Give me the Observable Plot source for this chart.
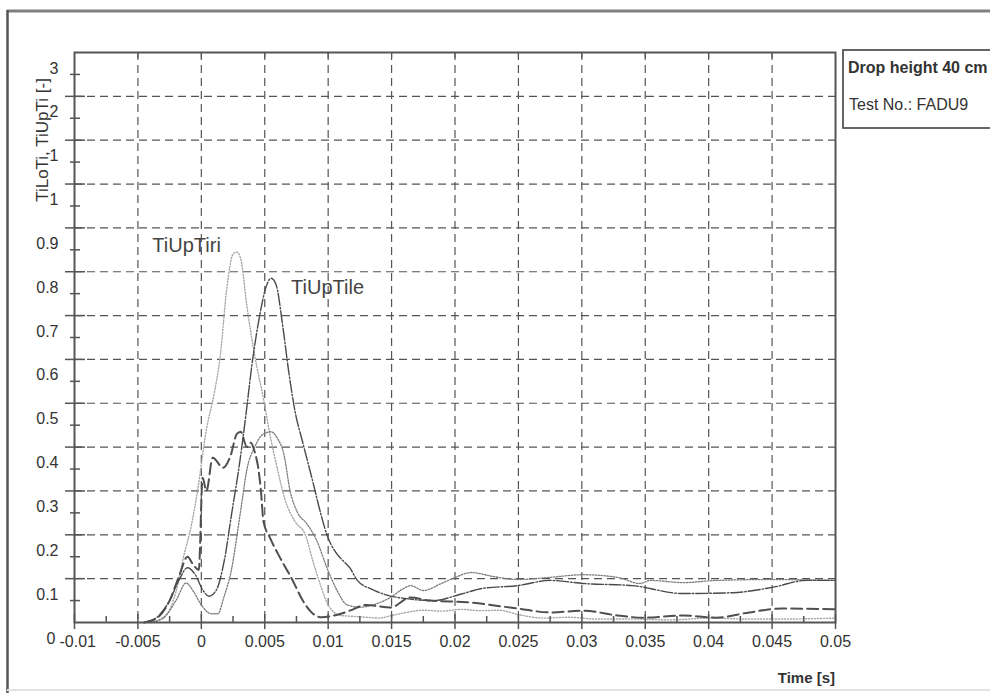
<!DOCTYPE html>
<html>
<head>
<meta charset="utf-8">
<script src="https://cdn.jsdelivr.net/npm/d3@7"></script>
<script src="https://cdn.jsdelivr.net/npm/@observablehq/plot@0.6"></script>
<style>
  body { margin: 0; background: #fff; }
  #chart { position: relative; width: 990px; height: 693px; overflow: hidden; }
</style>
</head>
<body>
<div id="chart"></div>
<script>
// ---------- data (time [s], value [-]) ----------
const tiUpTiri = [[-0.0045,0],[-0.0035,0.005],[-0.0027,0.02],[-0.002,0.07],[-0.0014,0.15],[-0.0008,0.22],[-0.0003,0.3],
  [0.0004,0.44],[0.001,0.52],[0.0015,0.61],[0.002,0.76],[0.0025,0.84],[0.0028,0.845],[0.0031,0.83],[0.0036,0.72],
  [0.0042,0.61],[0.0049,0.51],[0.0054,0.43],[0.006,0.35],[0.0066,0.28],[0.0074,0.23],[0.0082,0.2],[0.0088,0.14],
  [0.0094,0.085],[0.01,0.04],[0.011,0.016],[0.012,0.014],[0.013,0.012],[0.014,0.01],[0.015,0.016],[0.016,0.022],
  [0.0175,0.028],[0.019,0.026],[0.0205,0.03],[0.022,0.027],[0.0235,0.028],[0.025,0.018],[0.027,0.01],[0.029,0.012],
  [0.031,0.008],[0.034,0.008],[0.037,0.006],[0.04,0.01],[0.043,0.008],[0.046,0.008],[0.05,0.01]];

const tiUpTile = [[-0.0045,0],[-0.0035,0.012],[-0.0025,0.05],[-0.0017,0.1],[-0.0011,0.125],[-0.0005,0.11],[0.0001,0.075],
  [0.0006,0.06],[0.0012,0.075],[0.0018,0.14],[0.0024,0.25],[0.003,0.36],[0.0035,0.47],[0.004,0.59],[0.0046,0.7],
  [0.0051,0.765],[0.0055,0.785],[0.0059,0.77],[0.0064,0.68],[0.0069,0.57],[0.0074,0.48],[0.008,0.41],[0.0088,0.32],
  [0.0094,0.25],[0.0099,0.2],[0.0106,0.16],[0.0112,0.14],[0.0117,0.125],[0.0123,0.096],[0.0135,0.075],[0.0147,0.062],
  [0.016,0.055],[0.0183,0.05],[0.0205,0.065],[0.0222,0.078],[0.0249,0.084],[0.0275,0.096],[0.0301,0.089],
  [0.034,0.084],[0.038,0.066],[0.0419,0.068],[0.045,0.08],[0.0477,0.096],[0.05,0.096]];

const curveLongDash = [[-0.0045,0],[-0.0035,0.01],[-0.0025,0.05],[-0.0017,0.11],[-0.0011,0.15],[-0.0006,0.13],[-0.0002,0.12],
  [0.0001,0.33],[0.0004,0.3],[0.0009,0.376],[0.0017,0.353],[0.0023,0.38],[0.0028,0.43],[0.0031,0.435],[0.0036,0.4],
  [0.0039,0.41],[0.0042,0.39],[0.0045,0.35],[0.0047,0.3],[0.0049,0.23],[0.0054,0.194],[0.0062,0.148],[0.0072,0.096],
  [0.008,0.05],[0.0088,0.02],[0.0095,0.012],[0.0103,0.015],[0.011,0.02],[0.0117,0.027],[0.013,0.04],[0.0149,0.034],
  [0.0165,0.057],[0.018,0.05],[0.021,0.046],[0.0249,0.032],[0.0275,0.023],[0.0301,0.027],[0.0328,0.016],
  [0.0348,0.011],[0.038,0.016],[0.0406,0.011],[0.0432,0.023],[0.0458,0.032],[0.05,0.03]];

const curveDotted = [[-0.004,0],[-0.003,0.01],[-0.002,0.05],[-0.0012,0.09],[-0.0006,0.07],[0,0.04],[0.0008,0.02],
  [0.0013,0.02],[0.0018,0.06],[0.0023,0.11],[0.0031,0.255],[0.0036,0.35],[0.0042,0.4],[0.0049,0.43],[0.0055,0.435],
  [0.006,0.42],[0.0065,0.385],[0.007,0.3],[0.0076,0.25],[0.0083,0.226],[0.0091,0.187],[0.0099,0.125],[0.0107,0.073],
  [0.0115,0.04],[0.0125,0.035],[0.0135,0.04],[0.0149,0.057],[0.0158,0.075],[0.0165,0.084],[0.0175,0.073],
  [0.019,0.09],[0.0198,0.1],[0.0213,0.114],[0.023,0.105],[0.0249,0.098],[0.0275,0.103],[0.0301,0.109],
  [0.0328,0.103],[0.0346,0.089],[0.0354,0.096],[0.038,0.091],[0.0406,0.096],[0.045,0.098],[0.05,0.096]];

const xTicks = [-0.01,-0.005,0,0.005,0.01,0.015,0.02,0.025,0.03,0.035,0.04,0.045,0.05];
const xTickLabels = ["-0.01","-0.005","0","0.005","0.01","0.015","0.02","0.025","0.03","0.035","0.04","0.045","0.05"];
const xMinorTicks = [-0.0075,-0.0025,0.0025,0.0075,0.0125,0.0175,0.0225,0.0275,0.0325,0.0375,0.0425,0.0475];
const yGridTicks = [0.1,0.2,0.3,0.4,0.5,0.6,0.7,0.8,0.9,1.0,1.1,1.2];
const yMinorTicks = [0.05,0.15,0.25,0.35,0.45,0.55,0.65,0.75,0.85,0.95,1.05,1.15,1.25];
// labels as printed in the scan (they sit at the half-step ticks)
const yLabelTicks = [-0.05,0.05,0.15,0.25,0.35,0.45,0.55,0.65,0.75,0.85,0.95,1.05,1.15,1.25];
const yTickLabels = ["0","0.1","0.2","0.3","0.4","0.5","0.6","0.7","0.8","0.9","1","1","2","3"];

const curveNames = ["TiUpTiri", "TiUpTile"];
const infoLines = ["Drop height 40 cm", "Test No.: FADU9"];
const yTitle = "TiLoTi, TiUpTi [-]";
const xTitle = "Time [s]";

// ---------- layout / style ----------
const W = 990, H = 693;
const mL = 74, mR = 155, mT = 52, mB = 71;
const plotW = W - mL - mR, plotH = H - mT - mB;
const ink = "#555";
const font = "'Liberation Sans', Arial, Helvetica, sans-serif";

const series = [
  {data: tiUpTiri,      style: {stroke: "#a8a8a8", strokeWidth: 1.4, strokeDasharray: "1.2,1.8"}},
  {data: curveDotted,   style: {stroke: "#7c7c7c", strokeWidth: 1.3, strokeDasharray: "1.5,1.5"}},
  {data: curveLongDash, style: {stroke: "#4f4f4f", strokeWidth: 2.0, strokeDasharray: "11,5"}},
  {data: tiUpTile,      style: {stroke: "#4a4a4a", strokeWidth: 1.4, strokeDasharray: "12,2,1.5,2"}}
];

const peakRiri = d3.greatest(tiUpTiri, d => d[1]);
const peakLe = d3.greatest(tiUpTile, d => d[1]);

const marks = [
  // grid
  Plot.ruleX(xTicks.slice(1, -1), {x: d => d, stroke: ink, strokeWidth: 1.2, strokeDasharray: "8,5"}),
  Plot.ruleY(yGridTicks, {y: d => d, stroke: ink, strokeWidth: 1.2, strokeDasharray: "8,5"}),
  // curves
  ...series.map(s => Plot.line(s.data, {x: d => d[0], y: d => d[1], curve: "monotone-x", ...s.style})),
  // frame
  Plot.frame({stroke: ink, strokeWidth: 2}),
  // ticks
  Plot.tickX(xTicks, {x: d => d, insetTop: plotH - 8, insetBottom: -7, stroke: ink, strokeWidth: 1.5}),
  Plot.tickX(xMinorTicks, {x: d => d, insetTop: plotH - 6, stroke: ink, strokeWidth: 1.5}),
  Plot.tickX(xTicks.slice(1, -1), {x: d => d, insetBottom: plotH - 6, stroke: ink, strokeWidth: 1.2}),
  Plot.tickY(yGridTicks, {y: d => d, insetLeft: -9, insetRight: plotW - 11, stroke: ink, strokeWidth: 1.5}),
  Plot.tickY(yMinorTicks, {y: d => d, insetLeft: -4, insetRight: plotW - 6, stroke: ink, strokeWidth: 1.5}),
  // tick labels (the first x label is nudged right so it clears the y "0")
  Plot.text(xTicks.slice(0, 1), {x: d => d, y: 0, text: (d, i) => xTickLabels[i], textAnchor: "start",
    dx: -15, dy: 19, fontSize: 16, fill: "#333"}),
  Plot.text(xTicks.slice(1), {x: d => d, y: 0, text: (d, i) => xTickLabels[i + 1], dy: 19, fontSize: 16, fill: "#333"}),
  Plot.text(yLabelTicks.slice(0, 1), {x: -0.01, y: d => d, text: (d, i) => yTickLabels[i], textAnchor: "end",
    dx: -19, dy: -6, fontSize: 16, fill: "#333"}),
  Plot.text(yLabelTicks.slice(1), {x: -0.01, y: d => d, text: (d, i) => yTickLabels[i + 1], textAnchor: "end",
    dx: -16, dy: -6, fontSize: 16, fill: "#333"}),
  // curve labels
  Plot.text([peakRiri], {x: d => d[0], y: d => d[1], text: () => curveNames[0], textAnchor: "end",
    dx: -16, dy: -6, fontSize: 20, fill: "#444"}),
  Plot.text([peakLe], {x: d => d[0], y: d => d[1], text: () => curveNames[1], textAnchor: "start",
    dx: 20, dy: 9, fontSize: 20, fill: "#444"})
];

const plot = Plot.plot({
  width: W, height: H,
  marginLeft: mL, marginRight: mR, marginTop: mT, marginBottom: mB,
  x: {domain: [-0.01, 0.05], axis: null},
  y: {domain: [0, 1.3], axis: null},
  style: {fontFamily: font, background: "#fff", overflow: "visible"},
  marks
});
document.getElementById("chart").appendChild(plot);

// ---------- page furniture: outer border, info box, axis titles ----------
const svg = d3.select(plot);
const deco = svg.append("g").attr("font-family", font).attr("text-anchor", "start");
deco.append("line").attr("x1", 7).attr("x2", W).attr("y1", 11).attr("y2", 11)
  .attr("stroke", "#808080").attr("stroke-width", 3);
deco.append("line").attr("x1", 7.5).attr("x2", 7.5).attr("y1", 10).attr("y2", H)
  .attr("stroke", "#555").attr("stroke-width", 2.5);
deco.append("line").attr("x1", 7).attr("x2", W).attr("y1", 690).attr("y2", 690)
  .attr("stroke", "#e3e3e3").attr("stroke-width", 2);
deco.append("rect").attr("x", 843).attr("y", 50).attr("width", 170).attr("height", 78)
  .attr("fill", "#fff").attr("stroke", ink).attr("stroke-width", 1.8);
deco.append("text").attr("x", 848).attr("y", 73).attr("text-anchor", "start").attr("font-size", 16)
  .attr("font-weight", 700).attr("fill", "#333").text(infoLines[0]);
deco.append("text").attr("x", 849).attr("y", 110).attr("text-anchor", "start").attr("font-size", 16)
  .attr("fill", "#333").text(infoLines[1]);
deco.append("text").attr("transform", "translate(44,140) rotate(-90)").attr("text-anchor", "middle")
  .attr("dominant-baseline", "middle").attr("font-size", 17).attr("fill", "#333").text(yTitle);
deco.append("text").attr("x", 835).attr("y", 683).attr("text-anchor", "end").attr("font-size", 15)
  .attr("font-weight", 700).attr("fill", "#333").text(xTitle);
</script>
</body>
</html>
